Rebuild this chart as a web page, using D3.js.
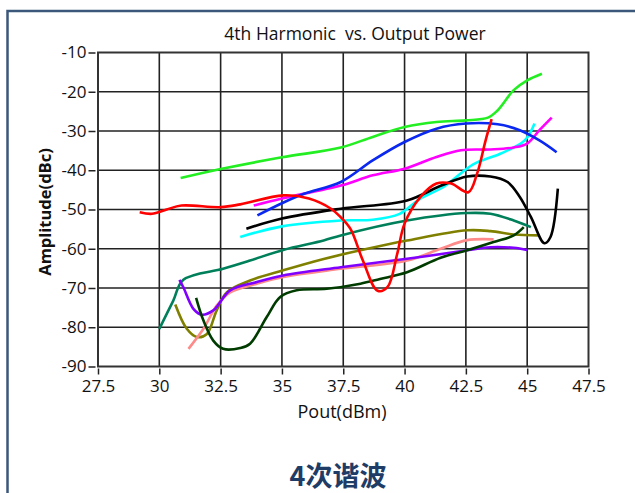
<html>
  <head>
    <style>
      body { margin: 0; background: #fff; }
      text { font-family: "Open Sans", "Noto Sans", sans-serif; }
    </style>
  </head>
  <body>
    <svg id="container" height="493" width="635">
      <g id="body"></g>
    </svg>
  </body>
  <script src="https://cdn.jsdelivr.net/npm/d3@7"></script>
  <script>
    // x ticks / y ticks
    const xTicks = [27.5, 30, 32.5, 35, 37.5, 40, 42.5, 45, 47.5];
    const yTicks = [-10, -20, -30, -40, -50, -60, -70, -80, -90];

    // [Pout, amplitude]
    const lime = [[30.87,-42],[32.5,-39.7],[35,-36.7],[37.4,-34.2],[38.7,-31.5],[40,-29],[41.3,-27.7],[42.5,-27.3],[43.4,-26.6],[43.8,-24.7],[44.45,-19.6],[45,-17.1],[45.6,-15.4]];
    const blue = [[34,-51.5],[35,-48.4],[35.9,-46],[37.4,-43],[38.7,-37.5],[40,-32.8],[41.3,-29.4],[42.5,-28.1],[43.8,-28.3],[44.7,-29.8],[45.5,-32.4],[46.2,-35.4]];
    const magenta = [[33.85,-49],[35,-47.2],[37.4,-43.9],[38.7,-41.3],[40,-39.6],[41.3,-36.6],[42.3,-34.9],[43.5,-34.7],[44.45,-34.2],[45,-33.2],[45.5,-29.8],[46,-26.6]];
    const cyan = [[33.3,-57],[35,-54.3],[37.4,-52.8],[38.7,-52.6],[39.8,-51.1],[40.6,-47.4],[41.6,-44.2],[42.8,-38.5],[43.9,-35.8],[44.9,-32.4],[45.3,-28.1]];
    const black = [[33.55,-54.9],[35,-52.3],[37.4,-49.8],[40.1,-47.7],[41.5,-43.9],[42.55,-41.6],[43.5,-41.6],[44.2,-43],[44.7,-46.8],[45.15,-51.9],[45.7,-58.6],[45.95,-57],[46.25,-44.7]];
    const red = [[29.2,-50.7],[29.7,-51.1],[30.3,-50],[30.9,-49],[32.5,-49.4],[33.3,-48.7],[35.05,-46.4],[36.1,-47.2],[37,-49.8],[37.4,-52],[37.8,-55],[38.3,-63],[38.9,-70.7],[39.3,-69.8],[39.7,-61.3],[40,-53.6],[40.65,-46.8],[41.3,-43.4],[41.9,-43.4],[42.6,-45.6],[42.95,-41],[43.3,-32.5],[43.55,-27]];
    const seaGreen = [[30,-80.4],[30.57,-73.2],[30.98,-67.9],[32.6,-65.1],[33.7,-63],[35.05,-60.3],[36.7,-57.9],[37.4,-56.6],[40.1,-52.8],[42.55,-50.9],[43.5,-51.1],[44.45,-52.8],[45.15,-54.5]];
    const olive = [[30.65,-74.2],[31.12,-80.4],[31.53,-82.5],[31.94,-81.7],[32.34,-75.7],[32.75,-71.1],[33.7,-68.1],[35.05,-65.5],[36.7,-62.6],[38.2,-60.4],[40.1,-57.9],[42.55,-55.3],[43.5,-55.5],[44.45,-56.35],[45.47,-56.6]];
    const salmon = [[31.19,-85.5],[31.8,-80.4],[32.34,-74.5],[32.89,-71.1],[33.98,-68.9],[35.05,-67.2],[37.4,-65.1],[40.1,-63],[41.47,-60],[42.55,-57.8],[43.63,-57.6]];
    const purple = [[30.82,-67.9],[30.98,-69.8],[31.39,-75.3],[31.73,-76.8],[32.2,-75.7],[32.89,-70.6],[33.98,-68.5],[35.05,-66.8],[37.4,-64.7],[40.1,-62.55],[42.55,-60.4],[43.5,-59.6],[44.45,-59.75],[45,-60.3]];
    const darkGreen = [[31.5,-72.5],[31.8,-78.3],[32.2,-83.4],[32.6,-85.5],[33.3,-85.3],[33.7,-84.2],[34.38,-77.4],[34.93,-72.3],[35.6,-70.6],[36.83,-70.2],[38.2,-68.9],[39,-67.7],[40.1,-66],[41.47,-62.3],[42.55,-60.4],[43.63,-58.3],[44.45,-56.6],[44.86,-54.5]];

    const series = [
      { data: seaGreen, color: "#00805a" },
      { data: olive, color: "#808000" },
      { data: salmon, color: "#ff8a8a" },
      { data: purple, color: "#8000ff" },
      { data: darkGreen, color: "#003c00" },
      { data: cyan, color: "#00ffff" },
      { data: black, color: "#000000" },
      { data: magenta, color: "#ff00ff" },
      { data: blue, color: "#0a28f0" },
      { data: lime, color: "#22ee22" },
      { data: red, color: "#ff0000" }
    ];

    const svg = d3.select("#container");
    const body = d3.select("#body");

    // outer panel border
    svg.insert("path", "#body")
      .attr("d", "M7.5,493 L7.5,11 L635,11")
      .attr("fill", "none")
      .attr("stroke", "#3b5779")
      .attr("stroke-width", 2.5);

    const plotLeft = 98, plotRight = 588.5, plotTop = 52.5, plotBottom = 366.5;
    const x = d3.scaleLinear().domain([27.5, 47.5]).range([plotLeft, plotRight]);
    const y = d3.scaleLinear().domain([-90, -10]).range([plotBottom, plotTop]);

    // grid
    body.append("g").selectAll("line")
      .data(xTicks.slice(1, -1))
      .enter().append("line")
      .attr("x1", d => x(d)).attr("x2", d => x(d))
      .attr("y1", plotTop).attr("y2", plotBottom)
      .attr("stroke", "#222").attr("stroke-width", 1.6);
    body.append("g").selectAll("line")
      .data(yTicks.slice(1, -1))
      .enter().append("line")
      .attr("y1", d => y(d)).attr("y2", d => y(d))
      .attr("x1", plotLeft).attr("x2", plotRight)
      .attr("stroke", "#222").attr("stroke-width", 1.6);

    // axes (ticks only, slightly offset from the frame)
    const xAxis = body.append("g")
      .attr("transform", `translate(0,${plotBottom + 2})`)
      .call(d3.axisBottom(x).tickValues(xTicks).tickFormat(d => String(d)).tickSizeOuter(0).tickSize(6).tickPadding(5));
    const yAxis = body.append("g")
      .attr("transform", `translate(${plotLeft - 2.5},0)`)
      .call(d3.axisLeft(y).tickValues(yTicks).tickFormat(d => String(d)).tickSizeOuter(0).tickSize(7).tickPadding(2));
    [xAxis, yAxis].forEach(a => {
      a.select(".domain").remove();
      a.selectAll("line").attr("stroke", "#222").attr("stroke-width", 1.5);
      a.selectAll("text").attr("fill", "#111")
        .style("font-size", "17px")
        .style("font-family", "'Open Sans', 'Noto Sans', sans-serif");
    });

    // lines
    const line = d3.line()
      .x(d => x(d[0]))
      .y(d => y(d[1]))
      .curve(d3.curveCatmullRom.alpha(0.5));
    body.append("g").selectAll("path")
      .data(series)
      .enter().append("path")
      .attr("d", d => line(d.data))
      .attr("fill", "none")
      .attr("stroke", d => d.color)
      .attr("stroke-width", 2.6)
      .attr("stroke-linecap", "butt")
      .attr("stroke-linejoin", "round");

    // frame
    body.append("rect")
      .attr("x", plotLeft).attr("y", plotTop)
      .attr("width", plotRight - plotLeft).attr("height", plotBottom - plotTop)
      .attr("fill", "none").attr("stroke", "#333").attr("stroke-width", 2);

    // texts
    body.append("text")
      .attr("x", 355).attr("y", 40)
      .attr("text-anchor", "middle")
      .style("font-size", "17.5px").attr("fill", "#111")
      .attr("xml:space", "preserve")
      .text("4th Harmonic  vs. Output Power");
    body.append("text")
      .attr("x", 342).attr("y", 418)
      .attr("text-anchor", "middle")
      .style("font-size", "18px").attr("fill", "#111")
      .text("Pout(dBm)");
    body.append("text")
      .attr("transform", "translate(51,212) rotate(-90)")
      .attr("text-anchor", "middle")
      .style("font-size", "16.5px").style("font-weight", "bold").attr("fill", "#111")
      .text("Amplitude(dBc)");
    body.append("text")
      .attr("x", 338).attr("y", 486)
      .attr("text-anchor", "middle")
      .style("font-size", "27px").style("font-weight", "bold")
      .style("font-family", "'Noto Sans CJK SC', sans-serif")
      .attr("fill", "#1f3c66")
      .text("4次谐波");
  </script>
</html>
